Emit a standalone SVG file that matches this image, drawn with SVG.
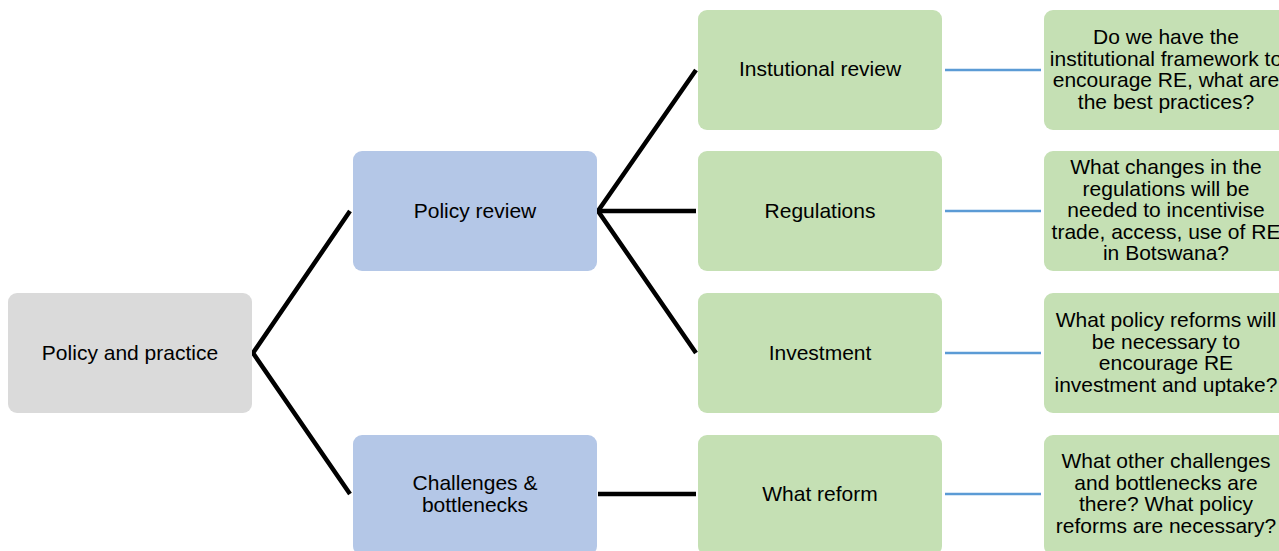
<svg xmlns="http://www.w3.org/2000/svg" width="1279" height="551" viewBox="0 0 1279 551">
  <style>
    .box { stroke: none; }
    .root { fill: #dadada; }
    .mid { fill: #b4c7e7; }
    .leaf { fill: #c5e0b4; }
    .lbl { font-family: "Liberation Sans", Arial, sans-serif; font-size: 21px; fill: #000; text-anchor: middle; }
    .tree { stroke: #000; stroke-width: 4.5; fill: none; stroke-linejoin: miter; }
    .link { stroke: #5b9bd5; stroke-width: 2.5; fill: none; }
  </style>
  <rect width="1279" height="551" fill="#fff"/>

  <g id="connectors">
    <polyline class="tree" points="350,211 253,353 350,494"/>
    <polyline class="tree" points="696,70 598,211 696,353"/>
    <line class="tree" x1="598" y1="211" x2="696" y2="211"/>
    <line class="tree" x1="598" y1="494" x2="696" y2="494"/>
    <line class="link" x1="945" y1="70" x2="1041" y2="70"/>
    <line class="link" x1="945" y1="211" x2="1041" y2="211"/>
    <line class="link" x1="945" y1="353" x2="1041" y2="353"/>
    <line class="link" x1="945" y1="494" x2="1041" y2="494"/>
  </g>

  <g id="policy-and-practice">
    <rect class="box root" x="8" y="293" width="244" height="120" rx="9"/>
    <text class="lbl" x="130" y="360">Policy and practice</text>
  </g>

  <g id="policy-review">
    <rect class="box mid" x="353" y="151" width="244" height="120" rx="9"/>
    <text class="lbl" x="475" y="218">Policy review</text>
  </g>

  <g id="challenges">
    <rect class="box mid" x="353" y="435" width="244" height="120" rx="9"/>
    <text class="lbl" x="475" y="490">Challenges &amp;</text>
    <text class="lbl" x="475" y="512">bottlenecks</text>
  </g>

  <g id="institutional-review">
    <rect class="box leaf" x="698" y="10" width="244" height="120" rx="9"/>
    <text class="lbl" x="820" y="76">Instutional review</text>
  </g>

  <g id="regulations">
    <rect class="box leaf" x="698" y="151" width="244" height="120" rx="9"/>
    <text class="lbl" x="820" y="218">Regulations</text>
  </g>

  <g id="investment">
    <rect class="box leaf" x="698" y="293" width="244" height="120" rx="9"/>
    <text class="lbl" x="820" y="360">Investment</text>
  </g>

  <g id="what-reform">
    <rect class="box leaf" x="698" y="435" width="244" height="120" rx="9"/>
    <text class="lbl" x="820" y="501">What reform</text>
  </g>

  <g id="q-institutional">
    <rect class="box leaf" x="1044" y="10" width="244" height="120" rx="9"/>
    <text class="lbl" x="1166" y="44">Do we have the</text>
    <text class="lbl" x="1166" y="66">institutional framework to</text>
    <text class="lbl" x="1166" y="87">encourage RE, what are</text>
    <text class="lbl" x="1166" y="109">the best practices?</text>
  </g>

  <g id="q-regulations">
    <rect class="box leaf" x="1044" y="151" width="244" height="120" rx="9"/>
    <text class="lbl" x="1166" y="174">What changes in the</text>
    <text class="lbl" x="1166" y="196">regulations will be</text>
    <text class="lbl" x="1166" y="217">needed to incentivise</text>
    <text class="lbl" x="1166" y="239">trade, access, use of RE</text>
    <text class="lbl" x="1166" y="260">in Botswana?</text>
  </g>

  <g id="q-investment">
    <rect class="box leaf" x="1044" y="293" width="244" height="120" rx="9"/>
    <text class="lbl" x="1166" y="327">What policy reforms will</text>
    <text class="lbl" x="1166" y="349">be necessary to</text>
    <text class="lbl" x="1166" y="370">encourage RE</text>
    <text class="lbl" x="1166" y="392">investment and uptake?</text>
  </g>

  <g id="q-reform">
    <rect class="box leaf" x="1044" y="435" width="244" height="120" rx="9"/>
    <text class="lbl" x="1166" y="468">What other challenges</text>
    <text class="lbl" x="1166" y="490">and bottlenecks are</text>
    <text class="lbl" x="1166" y="511">there? What policy</text>
    <text class="lbl" x="1166" y="533">reforms are necessary?</text>
  </g>
</svg>
